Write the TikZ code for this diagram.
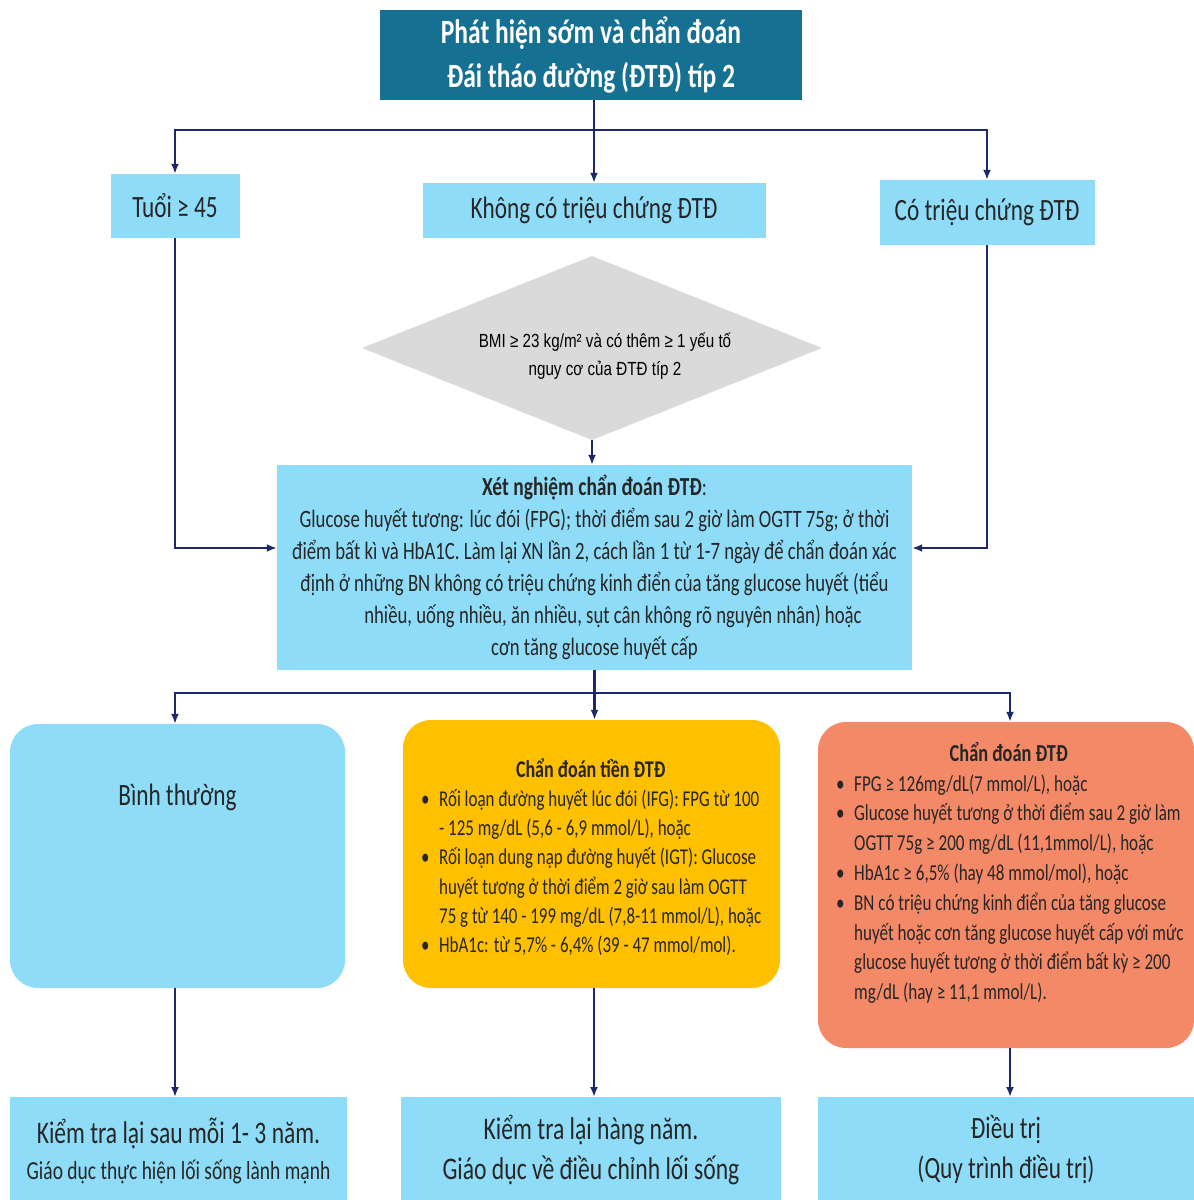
\documentclass[tikz,border=0pt]{standalone}
\usepackage{fontspec}
\setmainfont{Carlito}[FakeStretch=0.75]
\newfontfamily\arialc{Liberation Sans}[FakeStretch=0.8]
\usetikzlibrary{arrows.meta,calc}
\definecolor{topteal}{RGB}{22,112,145}
\definecolor{lblue}{RGB}{142,220,247}
\definecolor{dgray}{RGB}{218,218,218}
\definecolor{navy}{RGB}{28,40,105}
\definecolor{yel}{RGB}{255,192,0}
\definecolor{orng}{RGB}{244,137,104}
\definecolor{txt}{RGB}{38,38,38}
\tikzset{
  box/.style={fill=lblue, inner sep=0pt, text=txt, align=center},
  rbox/.style={inner sep=0pt, text=txt, rounded corners=28pt},
  conn/.style={draw=navy, line width=2.2pt, -{Latex[length=10pt,width=8pt]}},
  plain/.style={draw=navy, line width=2.6pt},
}
\newcommand\bul{\makebox[18pt][l]{•}}
\newcommand\ind{\hspace*{18pt}}
\begin{document}
\begin{tikzpicture}[x=1pt,y=-1pt]
\useasboundingbox (0,0) rectangle (1194,1200);
\clip (0,0) rectangle (1194,1200);
% top
\node[fill=topteal, text=white, minimum width=422pt, minimum height=90pt, inner sep=0pt, align=center,
  font=\bfseries\fontsize{34}{44}\selectfont] (top) at (591,55) {Phát hiện sớm và chẩn đoán\\Đái tháo đường (ĐTĐ) típ 2};
% row 2
\node[box, minimum width=129pt, minimum height=64pt, font=\fontsize{31}{36}\selectfont] (tuoi) at (175,206) {Tuổi ≥ 45};
\node[box, minimum width=343pt, minimum height=55pt, font=\fontsize{31}{36}\selectfont] (khong) at (594,210.5) {Không có triệu chứng ĐTĐ};
\node[box, minimum width=215pt, minimum height=65pt, font=\fontsize{31}{36}\selectfont] (co) at (987,212.5) {Có triệu chứng ĐTĐ};
% diamond
\coordinate (dc) at (592,348);
\fill[dgray] ($(dc)+(-230,0)$) -- ($(dc)+(0,-92)$) -- ($(dc)+(230,0)$) -- ($(dc)+(0,92)$) -- cycle;
\coordinate (dbot) at ($(dc)+(0,92)$);
\node[text=black, align=center, font=\arialc\fontsize{19}{28}\selectfont] (bmi) at (605,356) {BMI ≥ 23 kg/m² và có thêm ≥ 1 yếu tố\\nguy cơ của ĐTĐ típ 2};
% test box
\node[box, minimum width=635pt, minimum height=205pt, font=\fontsize{25}{32}\selectfont] (xn) at (594.5,567.5)
{{\bfseries\fontsize{26}{32}\selectfont Xét nghiệm chẩn đoán ĐTĐ}:\\
Glucose huyết tương: lúc đói (FPG); thời điểm sau 2 giờ làm OGTT 75g; ở thời\\
điểm bất kì và HbA1C. Làm lại XN lần 2, cách lần 1 từ 1-7 ngày để chẩn đoán xác\\
định ở những BN không có triệu chứng kinh điển của tăng glucose huyết (tiểu\\
\hspace*{37pt}nhiều, uống nhiều, ăn nhiều, sụt cân không rõ nguyên nhân) hoặc\\
cơn tăng glucose huyết cấp};
% results
\node[rbox, fill=lblue, minimum width=335pt, minimum height=264pt] (binh) at (177.5,856) {};
\node[text=txt, font=\fontsize{31}{36}\selectfont] (binhT) at (177.5,797) {Bình thường};
\node[rbox, fill=yel, minimum width=377pt, minimum height=268pt] (tien) at (591.5,854) {};
\node[text=txt, anchor=north west, align=left, inner sep=0pt, font=\fontsize{22.6}{29.3}\selectfont] (tienT) at (421,758)
{\makebox[339pt][c]{\bfseries\fontsize{24}{29.3}\selectfont Chẩn đoán tiền ĐTĐ}\\
\bul Rối loạn đường huyết lúc đói (IFG): FPG từ 100\\
\ind - 125 mg/dL (5,6 - 6,9 mmol/L), hoặc\\
\bul Rối loạn dung nạp đường huyết (IGT): Glucose\\
\ind huyết tương ở thời điểm 2 giờ sau làm OGTT\\
\ind 75 g từ 140 - 199 mg/dL (7,8-11 mmol/L), hoặc\\
\bul HbA1c: từ 5,7\% - 6,4\% (39 - 47 mmol/mol).};
\node[rbox, fill=orng, minimum width=376pt, minimum height=326pt] (cd) at (1006,885) {};
\node[text=txt, anchor=north west, align=left, inner sep=0pt, font=\fontsize{22.8}{29.8}\selectfont] (cdT) at (836,742)
{\makebox[345pt][c]{\bfseries\fontsize{24.4}{29.8}\selectfont Chẩn đoán ĐTĐ}\\
\bul FPG ≥ 126mg/dL(7 mmol/L), hoặc\\
\bul Glucose huyết tương ở thời điểm sau 2 giờ làm\\
\ind OGTT 75g ≥ 200 mg/dL (11,1mmol/L), hoặc\\
\bul HbA1c ≥ 6,5\% (hay 48 mmol/mol), hoặc\\
\bul BN có triệu chứng kinh điển của tăng glucose\\
\ind huyết hoặc cơn tăng glucose huyết cấp với mức\\
\ind glucose huyết tương ở thời điểm bất kỳ ≥ 200\\
\ind mg/dL (hay ≥ 11,1 mmol/L).};
% bottom
\node[box, minimum width=337pt, minimum height=120pt, anchor=north] (bk1) at (178.5,1097) {};
\node[text=txt, align=center, font=\fontsize{31.4}{36}\selectfont] (bk1a) at (178.5,1133) {Kiểm tra lại sau mỗi 1- 3 năm.};
\node[text=txt, align=center, font=\fontsize{26}{30}\selectfont] (bk1b) at (178.5,1172) {Giáo dục thực hiện lối sống lành mạnh};
\node[box, minimum width=380pt, minimum height=120pt, anchor=north] (bk2) at (591,1097) {};
\node[text=txt, align=center, font=\fontsize{31.5}{40}\selectfont] (bk2a) at (591,1150) {Kiểm tra lại hàng năm.\\Giáo dục về điều chỉnh lối sống};
\node[box, minimum width=376pt, minimum height=120pt, anchor=north] (bk3) at (1006,1097) {};
\node[text=txt, align=center, font=\fontsize{31}{40}\selectfont] (bk3a) at (1006,1150) {Điều trị\\(Quy trình điều trị)};
% connectors
\coordinate (j1) at (594,130);
\coordinate (j2) at (594.5,693);
\draw[plain] ([xshift=3pt]top.south) -- (j1);
\draw[conn] (j1) -- (khong.north);
\draw[conn] (j1) -| (tuoi.north);
\draw[conn] (j1) -| (co.north);
\draw[conn] (dbot) -- (dbot |- xn.north);
\draw[conn] (tuoi.south) |- ([yshift=19.5pt]xn.west);
\draw[conn] (co.south) |- ([yshift=19.5pt]xn.east);
\draw[plain] (xn.south) -- (j2);
\draw[conn] (j2) -- (j2 |- tien.north);
\draw[conn] (j2) -| ([xshift=-2.5pt]binh.north);
\draw[conn] (j2) -| ([xshift=4pt]cd.north);
\draw[conn] ([xshift=-2.5pt]binh.south) -- ([xshift=-3.5pt]bk1.north);
\draw[conn] ([xshift=2.5pt]tien.south) -- ([xshift=3pt]bk2.north);
\draw[conn] ([xshift=4pt]cd.south) -- ([xshift=4pt]bk3.north);
\end{tikzpicture}
\end{document}
